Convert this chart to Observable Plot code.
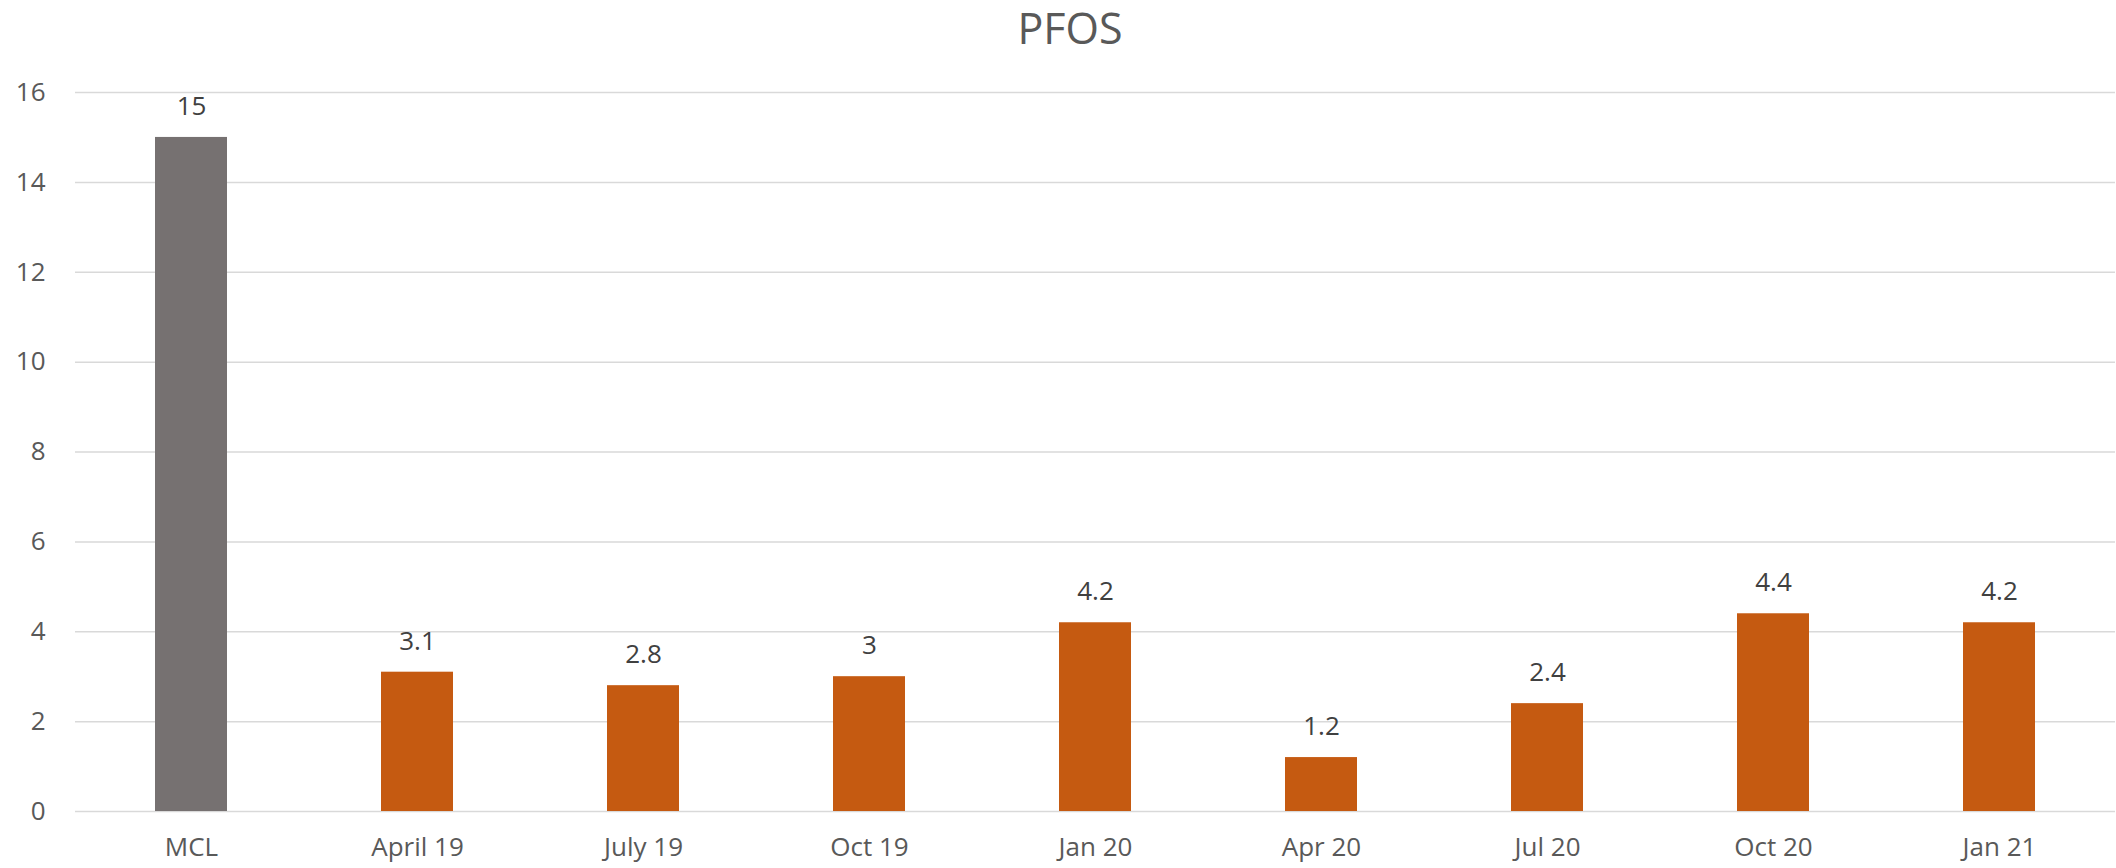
<!DOCTYPE html>
<html>
<head>
<meta charset="utf-8">
<script src="https://cdn.jsdelivr.net/npm/d3@7"></script>
<script src="https://cdn.jsdelivr.net/npm/@observablehq/plot@0.6"></script>
<style>
  html, body { margin: 0; padding: 0; background: #fff; }
  #title { height: 50px; line-height: 56px; text-align: center; padding-left: 24px; font-family: "Open Sans", sans-serif; font-size: 43px; color: #595959; }
</style>
</head>
<body>
<div id="title">PFOS</div>
<div id="chart"></div>
<script>
const categories = ["MCL", "April 19", "July 19", "Oct 19", "Jan 20", "Apr 20", "Jul 20", "Oct 20", "Jan 21"];
const values = [15, 3.1, 2.8, 3, 4.2, 1.2, 2.4, 4.4, 4.2];
const labels = ["15", "3.1", "2.8", "3", "4.2", "1.2", "2.4", "4.4", "4.2"];
const yTicks = [0, 2, 4, 6, 8, 10, 12, 14, 16];

const data = categories.map((c, i) => ({category: c, value: values[i], label: labels[i], kind: i === 0 ? "limit" : "sample"}));

const chart = Plot.plot({
  width: 2116,
  height: 818,
  marginTop: 42,
  marginBottom: 57,
  marginLeft: 75,
  marginRight: 1,
  style: { fontFamily: "Open Sans, sans-serif", fontSize: "26px", color: "#595959", background: "#fff" },
  x: { domain: categories, paddingInner: 0.68, paddingOuter: 0.34, label: null },
  y: { domain: [0, 16], ticks: yTicks, label: null },
  color: { domain: ["limit", "sample"], range: ["#767171", "#C55A11"] },
  marks: [
    Plot.gridY(yTicks, { stroke: "#d9d9d9", strokeOpacity: 1, strokeWidth: 1.5 }),
    Plot.axisY({ ticks: yTicks, tickSize: 0, tickPadding: 30, fontSize: 26, fill: "#595959", label: null }),
    Plot.axisX({ tickSize: 0, tickPadding: 26, fontSize: 26, fill: "#595959", label: null }),
    Plot.barY(data, { x: "category", y: "value", fill: "kind" }),
    Plot.text(data, { x: "category", y: "value", text: "label", dy: -31, fontSize: 26, fill: "#404040" })
  ]
});
document.getElementById("chart").appendChild(chart);
</script>
</body>
</html>
